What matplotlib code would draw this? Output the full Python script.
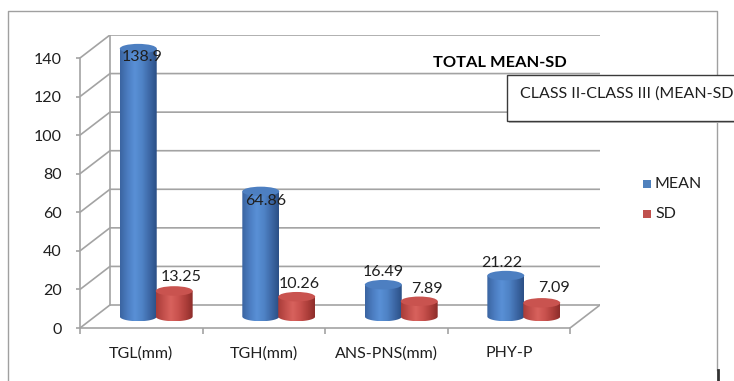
import numpy as np
import matplotlib
matplotlib.use("Agg")
import matplotlib.pyplot as plt
from matplotlib.patches import PathPatch, Ellipse, Rectangle
from matplotlib.path import Path
from matplotlib.colors import LinearSegmentedColormap
from matplotlib.lines import Line2D

categories = ["TGL(mm)", "TGH(mm)", "ANS-PNS(mm)", "PHY-P"]
mean_values = [138.9, 64.86, 16.49, 21.22]
sd_values = [13.25, 10.26, 7.89, 7.09]
series_names = ["MEAN", "SD"]
y_ticks = [0, 20, 40, 60, 80, 100, 120, 140]
chart_title = "TOTAL MEAN-SD"
box_text = "CLASS II-CLASS III (MEAN-SD"

# label nudges (pixels) from the top of each cylinder
mean_label_nudge = [(4, -8), (4.5, -9.5), (0, 13), (-4.5, 12.5)]
sd_label_nudge = [(7, 14), (3, 13), (7.5, 12), (12.5, 15)]

plt.rcParams["font.family"] = ["Lato", "DejaVu Sans"]
TEXT = "#1f1f1f"
GRID = "#a3a3a3"
FS = 11.5

W, H, DPI = 734, 381, 100
fig = plt.figure(figsize=(W / DPI, H / DPI), dpi=DPI)
fig.patch.set_facecolor("white")


def fx(px):
    return px / W


def fy(py):
    return 1 - py / H


# front plane and depth offset of the 3-D box
n = len(categories)
YMAX = 140
AX_L, AX_R, AX_T, AX_B = 80, 600, 35, 328
cat_px = (571 - 80) / n
unit_px = (328 - 58) / YMAX
DX = 30 / cat_px
DY = 23 / unit_px

ax = fig.add_axes([fx(AX_L), fy(AX_B), fx(AX_R) - fx(AX_L), fy(AX_T) - fy(AX_B)])
ax.patch.set_visible(False)

# walls: back grid, side-wall diagonals, edges
for v in y_ticks:
    ax.plot([-0.5, -0.5 + DX, n - 0.5 + DX], [v, v + DY, v + DY],
            color=GRID, lw=1.2, zorder=1, solid_capstyle="butt")
ax.plot([-0.5 + DX, -0.5 + DX], [DY, YMAX + DY], color=GRID, lw=1.2, zorder=1)
ax.plot([n - 0.5, n - 0.5 + DX], [0, DY], color=GRID, lw=1.2, zorder=1)

# axes spines act as the front edges
for s in ("top", "right"):
    ax.spines[s].set_visible(False)
ax.spines["left"].set_bounds(0, YMAX)
ax.spines["bottom"].set_bounds(-0.5, n - 0.5)
for s in ("left", "bottom"):
    ax.spines[s].set_color(GRID)
    ax.spines[s].set_linewidth(1.2)

ax.set_yticks(y_ticks)
ax.set_yticklabels([str(t) for t in y_ticks])
ax.tick_params(axis="y", length=3, width=1.2, color=GRID, pad=10,
               labelsize=FS, labelcolor=TEXT)
ax.set_xticks(range(n))
ax.set_xticklabels(categories)
ax.set_xticks(np.arange(n + 1) - 0.5, minor=True)
ax.tick_params(axis="x", which="major", length=0, pad=13, labelsize=FS, labelcolor=TEXT)
ax.tick_params(axis="x", which="minor", length=4, width=1.2, color=GRID)

# cylinders
BAR_W = 37 / cat_px
ELL_H = 9.5 / unit_px
OFFS = 18 / cat_px

blue_cmap = LinearSegmentedColormap.from_list(
    "blue_cyl", ["#3a64a0", "#4b7cc0", "#5990d6", "#4f83c6", "#3d68a6", "#2b4f85"])
red_cmap = LinearSegmentedColormap.from_list(
    "red_cyl", ["#a83c39", "#c24f4b", "#d8625d", "#c9524e", "#ae3f3b", "#8c2d2a"])
series_style = [
    (mean_values, -OFFS, blue_cmap, "#4d7fc1", mean_label_nudge),
    (sd_values, OFFS, red_cmap, "#c9534f", sd_label_nudge),
]

zo = 3.0
for i in range(n):
    for values, off, cmap, top_col, nudge in series_style:
        v = values[i]
        cx = i + off + DX / 2
        base = DY / 2
        top = base + v
        x0, x1 = cx - BAR_W / 2, cx + BAR_W / 2
        t = np.linspace(np.pi, 2 * np.pi, 60)
        verts = [(x0, top)] + list(zip(cx + BAR_W / 2 * np.cos(t),
                                       base + ELL_H / 2 * np.sin(t))) + [(x1, top), (x0, top)]
        body = PathPatch(Path(verts), facecolor="none", edgecolor="none", zorder=zo)
        ax.add_patch(body)
        grad = np.linspace(0, 1, 256).reshape(1, -1)
        im = ax.imshow(grad, extent=[x0, x1, base - ELL_H / 2, top], aspect="auto",
                       cmap=cmap, zorder=zo, interpolation="bilinear")
        im.set_clip_path(body)
        ax.add_patch(Ellipse((cx, top), BAR_W, ELL_H, facecolor=top_col,
                             edgecolor="none", zorder=zo + 0.05))
        ax.annotate(f"{v:g}", xy=(cx, top), xytext=(nudge[i][0] * 0.72, nudge[i][1] * 0.72),
                    textcoords="offset points", ha="center", va="center",
                    fontsize=FS, color=TEXT, zorder=10, annotation_clip=False)
        zo += 0.1

ax.set_xlim(-0.5, n - 0.5 + DX)
ax.set_ylim(0, YMAX + DY)

# title
fig.text(fx(500), fy(63), chart_title, ha="center", va="center",
         fontsize=11.75, fontweight="bold", color="black")

# outer chart border
fig.add_artist(Line2D([fx(8), fx(8), fx(717), fx(717)], [fy(381), fy(11), fy(11), fy(370)],
                      color="#a0a0a0", lw=1.0))
fig.add_artist(Line2D([fx(718), fx(718)], [fy(370), fy(381)], color="#333333", lw=2.0))

# boxed caption
fig.add_artist(Rectangle((fx(509), fy(123)), fx(740) - fx(509), fy(77) - fy(123),
                         transform=fig.transFigure, facecolor="#bdbdbd", edgecolor="none",
                         zorder=20))
fig.add_artist(Rectangle((fx(507), fy(121)), fx(740) - fx(507), fy(75) - fy(121),
                         transform=fig.transFigure, facecolor="white", edgecolor="#3a3a3a",
                         lw=1.0, zorder=21))
fig.text(fx(520), fy(94), box_text, ha="left", va="center", fontsize=FS,
         color=TEXT, zorder=22)

# legend
for k, (name, col) in enumerate(zip(series_names, ["#4f81bd", "#c0504d"])):
    yc = 184 + k * 30
    fig.add_artist(Rectangle((fx(643), fy(yc + 4)), fx(651) - fx(643), fy(yc - 4) - fy(yc + 4),
                             transform=fig.transFigure, facecolor=col, edgecolor="none"))
    fig.text(fx(655), fy(yc), name, ha="left", va="center", fontsize=FS, color=TEXT)

fig.savefig("out.png", dpi=DPI)
